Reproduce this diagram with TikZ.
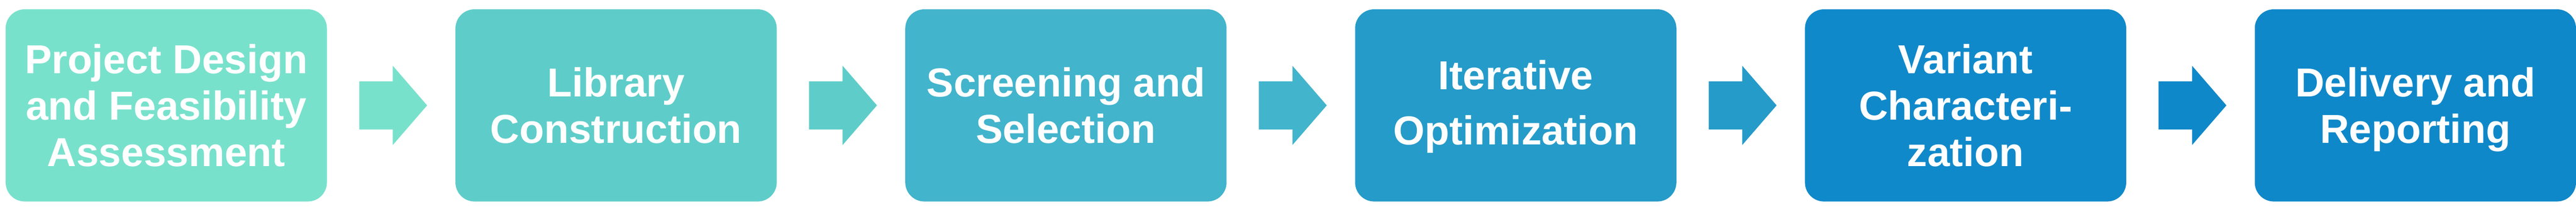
\documentclass[tikz,border=0pt]{standalone}
\usepackage{fontspec}
\setmainfont{Liberation Sans}
\usetikzlibrary{calc}
\definecolor{cA}{HTML}{78E1CC}
\definecolor{cB}{HTML}{5ECDC9}
\definecolor{cC}{HTML}{42B4CC}
\definecolor{cD}{HTML}{259BC9}
\definecolor{cE}{HTML}{1089CA}
\definecolor{cF}{HTML}{0F88C9}
\tikzset{
  stagebox/.style={rectangle, rounded corners=0.47cm, minimum width=7.95cm, minimum height=4.75cm,
    inner sep=0pt, outer sep=0pt, text=white, align=center, text depth=0pt,
    font=\bfseries\fontsize{28.45pt}{32.72pt}\selectfont},
  threeline/.style={text height=3.02cm},
  twoline/.style={text height=1.87cm},
}
\newcommand{\blockarrow}[2]{%
  \fill[#2] ($(#1.east)+(0.80,0.595)$) -- ($(#1.east)+(1.63,0.595)$) -- ($(#1.east)+(1.63,0.98)$)
    -- ($(#1.east)+(2.48,0)$) -- ($(#1.east)+(1.63,-0.98)$) -- ($(#1.east)+(1.63,-0.595)$)
    -- ($(#1.east)+(0.80,-0.595)$) -- cycle;}
\begin{document}
\begin{tikzpicture}
\useasboundingbox (0,0) rectangle (63.75,-5.24);
\node[stagebox, threeline, fill=cA] (b1) at (0.14+3.975,-2.605) {Project Design\\and Feasibility\\Assessment};
\node[stagebox, twoline, fill=cB] (b2) at (11.272+3.975,-2.605) {Library\\Construction};
\node[stagebox, twoline, fill=cC] (b3) at (22.404+3.975,-2.605) {Screening and\\Selection};
\node[stagebox, fill=cD, text height=1.95cm, font=\bfseries\fontsize{28.45pt}{38.98pt}\selectfont] (b4) at (33.536+3.975,-2.605) {Iterative\\Optimization};
\node[stagebox, threeline, fill=cE] (b5) at (44.668+3.975,-2.605) {Variant\\Characteri-\\zation};
\node[stagebox, twoline, fill=cF] (b6) at (55.80+3.975,-2.605) {Delivery and\\Reporting};
\blockarrow{b1}{cA}
\blockarrow{b2}{cB}
\blockarrow{b3}{cC}
\blockarrow{b4}{cD}
\blockarrow{b5}{cF}
\end{tikzpicture}
\end{document}
